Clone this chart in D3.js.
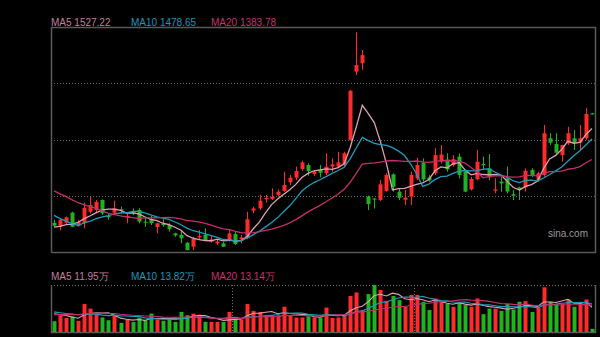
<!DOCTYPE html>
<html><head><meta charset="utf-8">
<script src="https://cdn.jsdelivr.net/npm/d3@7"></script>
<style>html,body{margin:0;padding:0;background:#000;}svg{display:block}</style>
</head><body><svg id="c" width="600" height="337"></svg>
<script>
// ---- data ----
const opens = [1100,1085,1100,1146,1085,1098,1150,1158,1203,1131,1146,1161,1125,1150,1158,1105,1116,1081,1098,1090,1052,1045,1010,992,1034,1045,1015,1007,1007,1019,1049,1025,1030,1155,1165,1206,1208,1226,1244,1283,1304,1343,1361,1321,1339,1324,1354,1354,1361,1474,1783,1821,1218,1210,1203,1244,1319,1241,1204,1218,1301,1372,1305,1324,1377,1386,1361,1399,1331,1251,1297,1366,1346,1245,1286,1301,1229,1260,1260,1339,1293,1316,1482,1456,1406,1459,1482,1462,1482,1595];
const highs = [1113,1120,1128,1150,1113,1191,1218,1203,1206,1143,1200,1173,1143,1165,1165,1125,1131,1100,1120,1098,1055,1067,1013,1037,1067,1075,1040,1025,1013,1071,1058,1045,1150,1173,1226,1226,1256,1251,1331,1316,1354,1381,1369,1335,1361,1414,1391,1421,1421,1700,1961,1881,1223,1211,1293,1324,1324,1256,1248,1331,1394,1391,1316,1437,1452,1414,1406,1414,1339,1307,1429,1399,1411,1301,1306,1354,1248,1263,1346,1346,1331,1542,1505,1505,1452,1534,1519,1542,1618,1595];
const lows = [1082,1067,1090,1080,1082,1075,1143,1143,1135,1113,1135,1143,1098,1135,1098,1082,1090,1052,1082,1060,1037,1007,975,977,1022,1019,1010,1000,991,1015,1000,1007,1025,1143,1158,1191,1203,1218,1241,1271,1293,1335,1313,1312,1306,1316,1331,1346,1354,1472,1768,1791,1158,1165,1199,1241,1241,1203,1180,1180,1293,1286,1286,1316,1369,1331,1354,1301,1239,1246,1293,1339,1293,1233,1241,1233,1203,1203,1241,1306,1286,1308,1452,1406,1376,1452,1429,1429,1474,1590];
const closes = [1087,1113,1125,1082,1105,1168,1180,1195,1143,1125,1165,1155,1131,1146,1105,1100,1098,1098,1089,1071,1043,1030,977,1030,1040,1022,1025,1015,992,1052,1004,1034,1116,1165,1200,1213,1218,1241,1271,1304,1334,1373,1334,1331,1326,1354,1364,1373,1414,1697,1813,1858,1185,1205,1274,1316,1263,1213,1214,1316,1361,1296,1291,1406,1409,1341,1387,1316,1241,1298,1376,1360,1306,1251,1278,1241,1222,1248,1335,1316,1324,1505,1462,1417,1452,1505,1462,1482,1592,1590];
// volumes in 万
const volumes = [5.2,8.1,6.8,7.6,5.4,13.5,11.3,8.6,7.0,5.7,7.8,4.4,6.0,4.9,7.0,5.7,8.9,6.0,5.4,6.5,4.9,9.7,8.1,8.9,8.4,4.9,4.9,4.9,4.9,9.7,6.0,6.0,13.5,10.2,9.7,8.1,8.1,8.1,12.2,8.1,7.0,7.0,7.6,7.0,7.0,11.8,6.8,7.0,8.1,17.4,19.1,10.6,18.3,22.7,20.3,15.1,17.4,15.4,12.2,17.9,17.9,14.6,10.6,16.2,14.6,13.5,12.2,14.1,13.0,12.2,16.2,8.6,11.3,11.3,10.2,13.5,10.9,14.6,14.9,9.7,11.8,21.6,14.6,13.5,13.5,15.7,12.2,14.6,15.7,1.5];
// warm-up history before the first visible day (inferred from where the MA lines start)
const priorCloses = [1380,1375,1370,1365,1355,1348,1370,1355,1338,1290,1260,1235,1205,1172,1060,1095,1085,1070,1065];
const priorVolumes = [7,8,6,7,8,7,6,8,7,7,12,11,10,9,11,10,9,12,8];
const maPeriods = [5,10,20];
const maNames = ["MA5","MA10","MA20"];
const priceMaTexts = ["1527.22","1478.65","1383.78"];
const volMaTexts = ["11.95万","13.82万","13.14万"];
const volDividers = [30,60];
const watermark = "sina.com";

// ---- styles ----
const UP = "#ff2a2a", DOWN = "#1fb41f";
const lineColors = ["#dba2b6","#1f9cbb","#c2306c"];
const textColors = ["#c27f9b","#1d97b5","#c6336b"];
const FONT = "'Liberation Sans', Arial, sans-serif";

const svg = d3.select("#c");
svg.append("rect").attr("width",600).attr("height",337).attr("fill","#000");

const N = closes.length;
const L = 51, R = 595, T = 27, B = 252, VT = 285, VB = 332;
const x = d3.scaleBand().domain(d3.range(N)).range([L, R]).paddingInner(0.33).paddingOuter(0.17);
const cx = i => x(i) + x.bandwidth()/2;
const y = d3.scaleLinear().domain([968, 1985]).range([B, T]);
const yv = d3.scaleLinear().domain([0, d3.max(volumes)]).range([VB, VT]);

function movingAvg(prior, vals, p) {
  const all = prior.concat(vals), off = prior.length;
  return vals.map((_, i) => d3.mean(all.slice(off + i - p + 1, off + i + 1)));
}

// ---- main panel grid & frame ----
const g = svg.append("g");
const gridVals = d3.range(1, 4).map(k => y.domain()[0] + k * (y.domain()[1] - y.domain()[0]) / 4);
g.selectAll("line.grid").data(gridVals).join("line")
  .attr("x1", L).attr("x2", R).attr("y1", d => Math.round(y(d)) + 0.5).attr("y2", d => Math.round(y(d)) + 0.5)
  .attr("stroke", "#707070").attr("stroke-dasharray", "1,2");
g.append("path").attr("d", `M${L+0.5},${B+0.5}V${T+0.5}H${R+0.5}V${B+0.5}H${L+0.5}`)
  .attr("fill","none").attr("stroke","#5a5a5a").attr("stroke-width",1.5);

svg.append("text").attr("x", 548).attr("y", 237).attr("fill","#9a9a9a")
  .attr("font-family", FONT).attr("font-size", 10).text(watermark);

// ---- candles ----
const bw = Math.round(x.bandwidth());
const cg = svg.append("g");
d3.range(N).forEach(i => {
  const up = closes[i] >= opens[i];
  const col = up ? UP : DOWN;
  const xc = Math.round(cx(i));
  cg.append("line").attr("x1", xc + 0.5).attr("x2", xc + 0.5)
    .attr("y1", y(highs[i])).attr("y2", y(lows[i])).attr("stroke", col).attr("stroke-width", 1);
  const top = y(Math.max(opens[i], closes[i])), bot = y(Math.min(opens[i], closes[i]));
  cg.append("rect").attr("x", xc + 0.5 - bw/2).attr("width", bw)
    .attr("y", top).attr("height", Math.max(1, bot - top)).attr("fill", col);
});

// ---- price MAs ----
maPeriods.forEach((p, k) => {
  const ma = movingAvg(priorCloses, closes, p);
  svg.append("path").datum(ma)
    .attr("d", d3.line().x((d, i) => cx(i)).y(d => y(d)))
    .attr("fill","none").attr("stroke", lineColors[k]).attr("stroke-width", 1.3);
});

// ---- legends ----
function legend(yy, texts) {
  maNames.forEach((n, k) => {
    svg.append("text").attr("x", 51 + k * 80).attr("y", yy).attr("fill", textColors[k])
      .attr("font-family", FONT).attr("font-size", 10).text(n + " " + texts[k]);
  });
}
legend(25.5, priceMaTexts);
legend(280, volMaTexts);

// ---- volume panel ----
const vg = svg.append("g");
vg.append("line").attr("x1", L).attr("x2", R).attr("y1", VT + 0.5).attr("y2", VT + 0.5)
  .attr("stroke","#707070").attr("stroke-dasharray","1,2");
vg.append("path").attr("d", `M${L+0.5},${VT}V${VB+0.5}H${R+0.5}V${VT}`)
  .attr("fill","none").attr("stroke","#5a5a5a").attr("stroke-width",1.5);
volDividers.forEach(d => {
  const xx = Math.round((cx(d - 1) + cx(d)) / 2) + 0.5;
  vg.append("line").attr("x1", xx).attr("x2", xx).attr("y1", VT).attr("y2", VB)
    .attr("stroke","#707070").attr("stroke-dasharray","1,2");
});
d3.range(N).forEach(i => {
  const up = closes[i] >= opens[i];
  const xc = Math.round(cx(i));
  vg.append("rect").attr("x", xc + 0.5 - bw/2).attr("width", bw)
    .attr("y", yv(volumes[i])).attr("height", VB - yv(volumes[i]))
    .attr("fill", up ? UP : DOWN);
});
maPeriods.forEach((p, k) => {
  const ma = movingAvg(priorVolumes, volumes, p);
  svg.append("path").datum(ma)
    .attr("d", d3.line().x((d, i) => cx(i)).y(d => yv(d)))
    .attr("fill","none").attr("stroke", lineColors[k]).attr("stroke-width", 1.1);
});
</script></body></html>
